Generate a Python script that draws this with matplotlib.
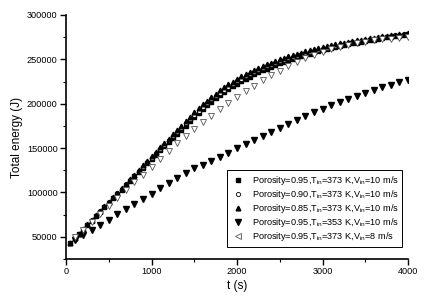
import matplotlib
matplotlib.use("Agg")
import matplotlib.pyplot as plt
from matplotlib.lines import Line2D
from matplotlib.ticker import MultipleLocator

plt.rcParams["font.family"] = ["Liberation Sans", "DejaVu Sans"]
plt.rcParams["mathtext.default"] = "regular"

# ── data ──────────────────────────────────────────────────────────────────
t_50 = list(range(50, 4001, 50))        # s, dense sampling (filled series)
t_100 = list(range(100, 4001, 100))     # s, coarse sampling

# Porosity=0.95, Tin=373 K, Vin=10 m/s  (squares)
e_p095 = [43200, 48200, 53200, 58200, 63200, 68200, 73200, 78200, 83200, 88200,
          93200, 98200, 103200, 108100, 113100, 118000, 122900, 127800, 132700, 137600,
          142500, 147300, 152100, 156900, 161600, 166300, 170900, 175400, 180200, 185000,
          189500, 193900, 198100, 202200, 206000, 209700, 213100, 216400, 219500, 222500,
          225300, 228000, 230500, 233000, 235300, 237500, 239600, 241700, 243600, 245500,
          247300, 249000, 250600, 252200, 253700, 255100, 256500, 257800, 259100, 260300,
          261500, 262600, 263700, 264800, 265900, 266900, 267900, 268800, 269700, 270600,
          271500, 272300, 273100, 273900, 274700, 275400, 276100, 276800, 277500, 278100]

# Porosity=0.90 (circles)
e_p090 = [43300, 48300, 53400, 58500, 63500, 68600, 73700, 78800, 83800, 88900,
          93900, 99000, 104000, 109000, 114100, 119100, 124100, 129100, 134100, 139100,
          144100, 149000, 153900, 158800, 163600, 168500, 173200, 177900, 182800, 187800,
          192300, 196700, 200900, 205000, 208800, 212500, 215900, 219200, 222300, 225200,
          228000, 230700, 233200, 235600, 237800, 240000, 242000, 244000, 245900, 247700,
          249500, 251100, 252700, 254200, 255600, 257000, 258300, 259600, 260800, 262000,
          263100, 264200, 265300, 266300, 267300, 268300, 269200, 270100, 271000, 271800,
          272600, 273400, 274200, 274900, 275600, 276300, 277000, 277600, 278200, 278800]

# Porosity=0.85 (up triangles)
e_p085 = [43500, 48500, 53600, 58800, 63900, 69000, 74100, 79300, 84400, 89500,
          94600, 99800, 104900, 110000, 115100, 120200, 125300, 130400, 135500, 140600,
          145600, 150700, 155700, 160700, 165600, 170600, 175400, 180300, 185400, 190500,
          195000, 199500, 203600, 207800, 211500, 215300, 218600, 222000, 225000, 228000,
          230700, 233400, 235800, 238200, 240300, 242500, 244400, 246400, 248200, 250000,
          251600, 253300, 254800, 256300, 257600, 259000, 260200, 261500, 262600, 263800,
          264800, 265900, 266900, 267900, 268800, 269800, 270600, 271500, 272300, 273100,
          273800, 274600, 275300, 276000, 276600, 277300, 277900, 278500, 279000, 279600]

# Porosity=0.95, Tin=353 K (down triangles)
e_t353 = [46500, 52200, 58000, 63700, 69300, 75200, 81000, 87000, 93000, 98800,
          104700, 110500, 116200, 121800, 127000, 131500, 135800, 140200, 145000, 149800,
          154300, 158800, 163500, 168200, 172800, 177400, 181900, 186300, 190300, 194300,
          198100, 201800, 205300, 208700, 212000, 215200, 218300, 221300, 224200, 227000]

# Porosity=0.95, Vin=8 m/s (open triangles)
e_v8 = [49300, 58200, 67100, 76000, 84800, 93700, 102500, 111300, 120100, 128900,
        137700, 146400, 155200, 163400, 171300, 179100, 186700, 194000, 201000, 207800,
        214300, 220500, 226400, 232000, 237300, 242300, 247000, 251200, 255000, 258400,
        261400, 264000, 266300, 268300, 270000, 271400, 272500, 273400, 274100, 274700]

labels = [
    r"Porosity=0.95,T$_{in}$=373 K,V$_{in}$=10 m/s",
    r"Porosity=0.90,T$_{in}$=373 K,V$_{in}$=10 m/s",
    r"Porosity=0.85,T$_{in}$=373 K,V$_{in}$=10 m/s",
    r"Porosity=0.95,T$_{in}$=353 K,V$_{in}$=10 m/s",
    r"Porosity=0.95,T$_{in}$=373 K,V$_{in}$=8 m/s",
]

fig = plt.figure(figsize=(4.28, 3.03), dpi=100)
ax = fig.add_axes([66 / 428, 1 - 259 / 303, 342 / 428, 244 / 303])

ax.plot(t_50, e_p095, ls="none", marker="s", ms=2.8, color="black")
ax.plot(t_50, e_p090, ls="none", marker="o", ms=3.0, mfc="white", mec="black", mew=0.6)
ax.plot(t_50, e_p085, ls="none", marker="^", ms=3.4, color="black")
ax.plot(t_100, e_t353, ls="none", marker="v", ms=3.8, color="black")
ax.plot(t_100, e_v8, ls="none", marker="v", ms=3.8, mfc="white", mec="#555555", mew=0.6)

ax.set_xlim(0, 4000)
ax.set_ylim(25000, 300000)
ax.xaxis.set_major_locator(MultipleLocator(1000))
ax.xaxis.set_minor_locator(MultipleLocator(500))
ax.yaxis.set_minor_locator(MultipleLocator(25000))
ax.set_yticks([50000, 100000, 150000, 200000, 250000, 300000])

for s in ["top", "right"]:
    ax.spines[s].set_visible(False)
for s in ["left", "bottom"]:
    ax.spines[s].set_linewidth(1.2)
ax.tick_params(which="major", direction="out", length=4, width=1.0, labelsize=6.6, pad=2)
ax.tick_params(which="minor", direction="out", length=2, width=0.8)

ax.set_xlabel("t (s)", fontsize=8.5, labelpad=3)
ax.set_ylabel("Total energy (J)", fontsize=8.5, labelpad=3)

# legend symbols as drawn in the reference key
handles = [
    Line2D([], [], ls="none", marker="s", ms=2.8, color="black"),
    Line2D([], [], ls="none", marker="o", ms=3.0, mfc="white", mec="black", mew=0.6),
    Line2D([], [], ls="none", marker="^", ms=3.4, color="black"),
    Line2D([], [], ls="none", marker="v", ms=3.8, color="black"),
    Line2D([], [], ls="none", marker="<", ms=3.8, mfc="white", mec="#555555", mew=0.6),
]
leg = ax.legend(handles, labels, loc="lower right", bbox_to_anchor=(0.997, 0.03),
                fontsize=6.6, frameon=True, fancybox=False, edgecolor="black",
                framealpha=1, numpoints=1, handlelength=1.6, handletextpad=0.7,
                labelspacing=0.12, borderpad=0.4)
leg.get_frame().set_linewidth(0.7)

fig.savefig("out.png", dpi=100)
